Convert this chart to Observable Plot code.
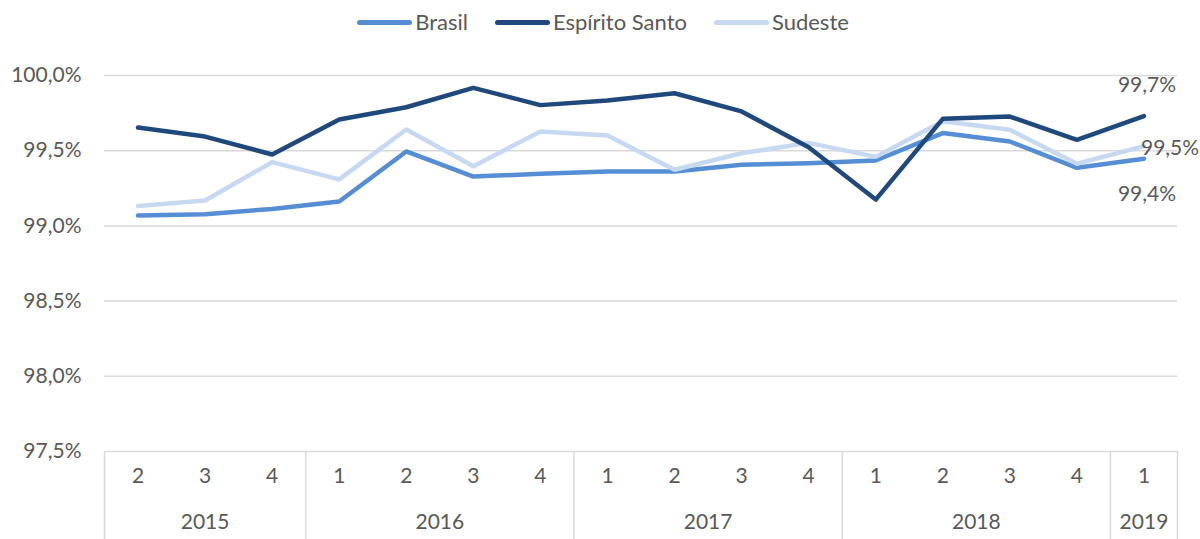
<!DOCTYPE html>
<html><head><meta charset="utf-8">
<script src="https://cdn.jsdelivr.net/npm/d3@7"></script>
<script src="https://cdn.jsdelivr.net/npm/@observablehq/plot@0.6"></script>
<style>
body{margin:0;background:#fff;font-family:Lato, sans-serif;}
#wrap{position:relative;width:1200px;height:539px;}
#legend{position:absolute;top:9px;left:0;width:1200px;display:flex;justify-content:center;gap:27px;font-size:22px;color:#595959;line-height:26px;font-family:Lato, sans-serif;padding-left:6px;box-sizing:border-box;}
.item{display:flex;align-items:center;}
.sw{width:55px;height:5px;border-radius:3px;margin-right:3px;}
#chart{position:absolute;top:0;left:0;}
</style></head><body>
<div id="wrap"><div id="chart"></div><div id="legend"></div></div>
<script>
const quarters = ["2","3","4","1","2","3","4","1","2","3","4","1","2","3","4","1"];
const years = ["2015","2016","2017","2018","2019"];
const yearSpans = [3,4,4,4,1];
const brasil =        [99.069,99.078,99.113,99.162,99.495,99.328,99.346,99.362,99.362,99.406,99.417,99.435,99.617,99.561,99.386,99.447];
const espiritoSanto = [99.654,99.594,99.475,99.707,99.789,99.918,99.803,99.834,99.882,99.761,99.523,99.175,99.712,99.727,99.572,99.730];
const sudeste =       [99.133,99.169,99.424,99.309,99.641,99.397,99.628,99.601,99.373,99.483,99.552,99.459,99.696,99.639,99.413,99.530];
const seriesNames = ["Brasil","Espírito Santo","Sudeste"];
const seriesColors = ["#558ED5","#1F497D","#C6D9F1"];
const yTicks = [97.5,98,98.5,99,99.5,100];

const fmt = d => d.toFixed(1).replace(".", ",") + "%";
const seriesValues = [brasil, espiritoSanto, sudeste];
const rows = seriesValues.map((vals, s) => vals.map((v, i) => ({i, v, s: seriesNames[s]})));

// year groups
let start = -0.5;
const yearGroups = years.map((y, k) => {
  const g = {year: y, start, end: start + yearSpans[k], center: start + yearSpans[k] / 2};
  start += yearSpans[k];
  return g;
});
const separators = [-0.5, ...yearGroups.map(g => g.end)];

const last = quarters.length - 1;
const endLabels = [
  {s: 1, dy: -31, dx: 3, anchor: "middle"},
  {s: 2, dy: 2, dx: -3, anchor: "start"},
  {s: 0, dy: 36, dx: 3, anchor: "middle"}
].map(o => ({...o, i: last, v: seriesValues[o.s][last]}));

const textColor = "#595959";
const gridColor = "#D9D9D9";
const fs = 21;

const chart = Plot.plot({
  width: 1200, height: 539,
  marginTop: 75, marginBottom: 88, marginLeft: 104, marginRight: 23,
  x: {domain: [-0.5, quarters.length - 0.5], axis: null},
  y: {domain: [97.5, 100], axis: null},
  style: {fontFamily: "Lato, sans-serif", fontSize: "21px", background: "#fff"},
  marks: [
    Plot.ruleY(yTicks, {stroke: gridColor, strokeWidth: 1.5}),
    Plot.ruleX(separators, {x: d => d, stroke: gridColor, strokeWidth: 1.5, insetTop: 376, insetBottom: -88}),
    Plot.text(yTicks, {y: d => d, text: fmt, frameAnchor: "left", dx: -23, textAnchor: "end", fill: textColor, fontSize: fs}),
    Plot.text(quarters, {x: (d, i) => i, text: d => d, frameAnchor: "bottom", dy: 31, fill: textColor, fontSize: fs}),
    Plot.text(yearGroups, {x: "center", text: "year", frameAnchor: "bottom", dy: 77, fill: textColor, fontSize: fs}),
    Plot.line(rows[0], {x: "i", y: "v", stroke: seriesColors[0], strokeWidth: 4.5, strokeLinecap: "round", strokeLinejoin: "round"}),
    Plot.line(rows[2], {x: "i", y: "v", stroke: seriesColors[2], strokeWidth: 4.5, strokeLinecap: "round", strokeLinejoin: "round"}),
    Plot.line(rows[1], {x: "i", y: "v", stroke: seriesColors[1], strokeWidth: 4.5, strokeLinecap: "round", strokeLinejoin: "round"}),
    ...endLabels.map(o => Plot.text([o], {x: "i", y: "v", text: d => fmt(d.v), dy: o.dy, dx: o.dx, textAnchor: o.anchor, fill: textColor, fontSize: fs}))
  ]
});
document.getElementById("chart").appendChild(chart);

const legend = document.getElementById("legend");
seriesNames.forEach((n, k) => {
  const it = document.createElement("div");
  it.className = "item";
  const sw = document.createElement("span");
  sw.className = "sw";
  sw.style.background = seriesColors[k];
  const t = document.createElement("span");
  t.textContent = n;
  it.appendChild(sw); it.appendChild(t);
  legend.appendChild(it);
});
</script>
</body></html>
